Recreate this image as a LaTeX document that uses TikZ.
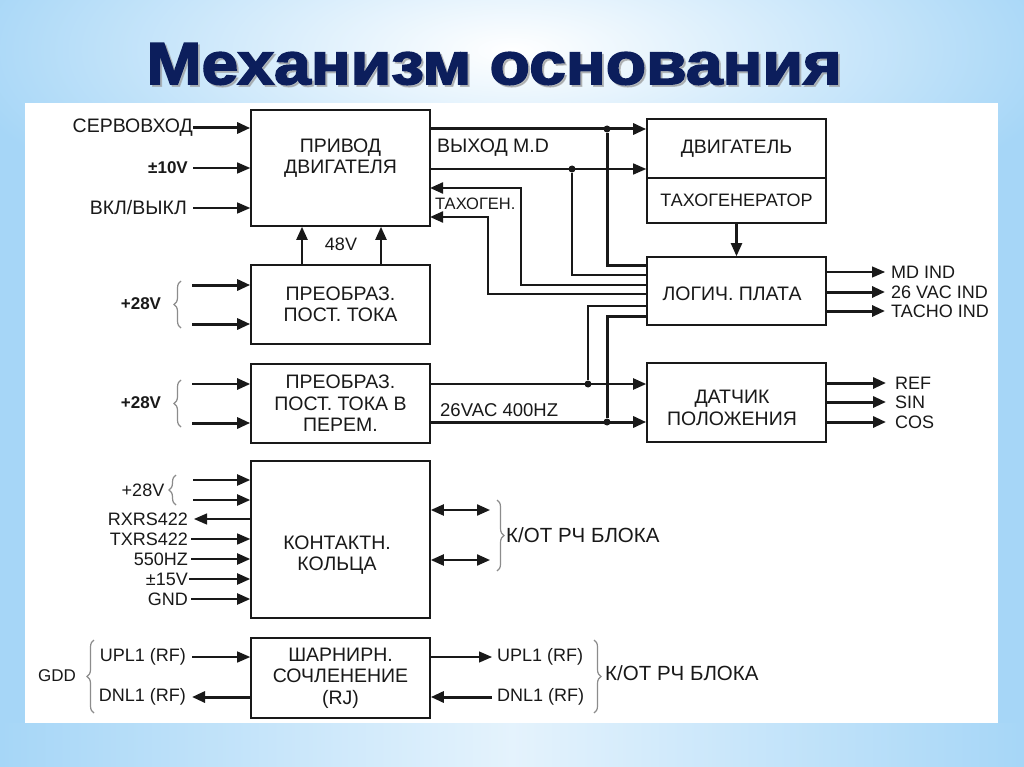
\documentclass[tikz,border=0pt]{standalone}
\usepackage{graphicx}
\usepackage{fontspec}
\setmainfont{Liberation Sans}
\newfontfamily\titlefont[BoldFeatures={FakeBold=2.5}]{Liberation Sans}
\usetikzlibrary{arrows.meta,decorations.pathreplacing,calc}
\definecolor{bgblue}{RGB}{166,214,247}
\definecolor{navy}{RGB}{12,30,92}
\definecolor{ink}{RGB}{25,25,25}
\begin{document}
\begin{tikzpicture}[x=1pt,y=-1pt,
  box/.style={draw=ink,line width=1.6pt,fill=white,minimum width=179pt,inner sep=0pt,
    font=\fontsize{19.5}{21.5}\selectfont,text=ink,align=center},
  txt/.style={font=\fontsize{19.5}{21.5}\selectfont,text=ink,inner sep=0pt,align=center},
  lab/.style={font=\fontsize{19.5}{22}\selectfont,text=ink,inner sep=0pt},
  labl/.style={font=\fontsize{18}{20}\selectfont,text=ink,inner sep=0pt},
  bl/.style={font=\fontsize{17}{20}\selectfont\bfseries,text=ink,inner sep=0pt},
  wthin/.style={line width=1.3pt,draw=ink},
  wmed/.style={line width=2.2pt,draw=ink},
  wthick/.style={line width=3pt,draw=ink},
  arr/.style={-{Triangle[length=13pt,width=11pt]}},
  larr/.style={{Triangle[length=13pt,width=11pt]}-},
  darr/.style={{Triangle[length=13pt,width=11pt]}-{Triangle[length=13pt,width=11pt]}},
  jdot/.style={circle,fill=ink,inner sep=0pt,minimum size=7pt},
  brc/.style={draw=black!45,line width=1.2pt,decorate,decoration={brace,amplitude=7pt}},
]
\useasboundingbox (0,0) rectangle (1024,767);
% background
\fill[bgblue] (0,0) rectangle (1024,767);
\shade[inner color=white,outer color=bgblue] (512,50) ellipse (560 and 200);
\shade[left color=bgblue,right color=bgblue,middle color=bgblue!30] (0,723) rectangle (1024,767);
\fill[white] (25,103) rectangle (998,723);
% title
\node[text=black!40,opacity=0.6] (titleS) at (496,66) {\resizebox{695pt}{41pt}{\titlefont\bfseries Механизм основания}};
\node[text=navy] (title) at (494,64) {\resizebox{695pt}{41pt}{\titlefont\bfseries Механизм основания}};

% blocks
\node[box,minimum height=116pt] (drv) at (340.5,168) {};
\node[txt] (drvT) at (340.5,158) {ПРИВОД\\ДВИГАТЕЛЯ};
\node[box,minimum height=79pt] (conv1) at (340.5,304.5) {ПРЕОБРАЗ.\\ПОСТ. ТОКА};
\node[box,minimum height=79pt] (conv2) at (340.5,403.5) {ПРЕОБРАЗ.\\ПОСТ. ТОКА В\\ПЕРЕМ.};
\node[box,minimum height=59pt] (motorA) at (736.5,148.5) {ДВИГАТЕЛЬ};
\node[box,minimum height=45pt,font=\fontsize{18}{20}\selectfont] (motorB) at (736.5,200.5) {ТАХОГЕНЕРАТОР};
\node[box,minimum height=68pt] (logic) at (736.5,291) {};
\node[txt] (logicT) at (732,294) {ЛОГИЧ. ПЛАТА};
\node[box,minimum height=79pt] (sensor) at (736.5,402.5) {};
\node[txt] (sensorT) at (732,408) {ДАТЧИК\\ПОЛОЖЕНИЯ};
\node[box,minimum height=157pt] (ring) at (340.5,539.5) {};
\node[txt] (ringT) at (337,555) {КОНТАКТН.\\КОЛЬЦА};
\node[box,minimum height=80pt] (joint) at (340.5,678) {ШАРНИРН.\\СОЧЛЕНЕНИЕ\\(RJ)};

% inputs of drive
\node[lab,anchor=east] (sIn) at (193,128) {СЕРВОВХОД};
\draw[wthick,arr] (sIn.east) -- (sIn.east -| drv.west);
\node[bl,anchor=east] (pm10) at (188,168) {±10V};
\draw[wthin,arr] ([xshift=5pt]pm10.east) -- (pm10.east -| drv.west);
\node[lab,anchor=east] (onoff) at (187,208) {ВКЛ/ВЫКЛ};
\draw[wthin,arr] ([xshift=6pt]onoff.east) -- (onoff.east -| drv.west);

% 48V
\coordinate (v48a) at (302,265);
\coordinate (v48b) at (381,265);
\draw[wmed,arr] (v48a) -- (v48a |- drv.south);
\draw[wmed,arr] (v48b) -- (v48b |- drv.south);
\node[labl] (v48) at (341,244) {48V};

% drive outputs
\node[jdot] (j1) at (607,129) {};
\node[jdot] (j2) at (572,169) {};
\draw[wthick,arr] (drv.east |- j1) -- (motorA.west |- j1);
\draw[wthin,arr] (drv.east |- j2) -- (motorA.west |- j2);
\node[lab,anchor=west] (mdout) at (437,148) {ВЫХОД M.D};

% tacho feedback
\coordinate (t1) at (521,285);
\coordinate (t2) at (488,294);
\coordinate (d1) at (430,188);
\coordinate (d2) at (430,217);
\draw[wmed,arr] (logic.west |- t1) -- (t1) |- (d1);
\draw[wmed,arr] (logic.west |- t2) -- (t2) |- (d2);
\node[lab,anchor=west,font=\fontsize{16.5}{18}\selectfont] (tg) at (435,204) {ТАХОГЕН.};

% junction lines to logic board
\coordinate (l1) at (647,265);
\coordinate (l2) at (647,275);
\draw[wthick] (j1) |- (l1);
\draw[line width=2.5pt,draw=ink] (j2) |- (l2);

% sensor inputs
\node[jdot] (j3) at (588,384) {};
\node[jdot] (j4) at (607,422) {};
\coordinate (l3) at (647,306);
\coordinate (l4) at (647,316);
\draw[wmed] (l3) -| (j3);
\draw[wthick] (l4) -| (j4);
\draw[wmed,arr] (conv2.east |- j3) -- (sensor.west |- j3);
\draw[wthick,arr] (conv2.east |- j4) -- (sensor.west |- j4);
\node[labl,anchor=west,font=\fontsize{18.5}{20}\selectfont] (vac) at (440,410) {26VAC 400HZ};

% motor -> logic
\draw[wmed,arr] (motorB.south) -- (logic.north);

% logic outputs
\node[labl,anchor=west] (mdind) at (891,272) {MD IND};
\node[labl,anchor=west] (vacind) at (891,292) {26 VAC IND};
\node[labl,anchor=west] (tind) at (891,311) {TACHO IND};
\draw[wthin,arr] (logic.east |- mdind) -- ([xshift=-6pt]mdind.west);
\draw[wthick,arr] (logic.east |- vacind) -- ([xshift=-6pt]vacind.west);
\draw[wthick,arr] (logic.east |- tind) -- ([xshift=-6pt]tind.west);

% sensor outputs
\node[labl,anchor=west] (ref) at (895,383) {REF};
\node[labl,anchor=west] (sin) at (895,402) {SIN};
\node[labl,anchor=west] (cos) at (895,422) {COS};
\draw[wthick,arr] (sensor.east |- ref) -- ([xshift=-9pt]ref.west);
\draw[wthick,arr] (sensor.east |- sin) -- ([xshift=-9pt]sin.west);
\draw[wthick,arr] (sensor.east |- cos) -- ([xshift=-9pt]cos.west);

% conv1 inputs
\coordinate (c1a) at (192,285);
\coordinate (c1b) at (192,324);
\draw[wthick,arr] (c1a) -- (c1a -| conv1.west);
\draw[wthick,arr] (c1b) -- (c1b -| conv1.west);
\node[bl] (p28a) at (141,304) {+28V};
\draw[brc] (181,328) -- (181,281);

% conv2 inputs
\coordinate (c2a) at (192,384);
\coordinate (c2b) at (192,423);
\draw[line width=2.6pt,draw=ink,arr] (c2a) -- (c2a -| conv2.west);
\draw[wthick,arr] (c2b) -- (c2b -| conv2.west);
\node[bl] (p28b) at (141,403) {+28V};
\draw[brc] (181,427) -- (181,380);

% ring inputs
\coordinate (r1) at (193,480);
\coordinate (r2) at (193,500);
\draw[wmed,arr] (r1) -- (r1 -| ring.west);
\draw[wmed,arr] (r2) -- (r2 -| ring.west);
\node[labl] (p28c) at (143,490) {+28V};
\draw[brc] (176,505) -- (176,475);
\node[labl,anchor=east] (rx) at (188,519) {RXRS422};
\draw[wthin,larr] ([xshift=6pt]rx.east) -- (rx.east -| ring.west);
\node[labl,anchor=east] (tx) at (188,539) {TXRS422};
\draw[wthin,arr] ([xshift=3pt]tx.east) -- (tx.east -| ring.west);
\node[labl,anchor=east] (hz) at (188,559) {550HZ};
\draw[wmed,arr] ([xshift=3pt]hz.east) -- (hz.east -| ring.west);
\node[labl,anchor=east] (v15) at (188,579) {±15V};
\draw[wmed,arr] ([xshift=1pt]v15.east) -- (v15.east -| ring.west);
\node[labl,anchor=east] (gnd) at (188,599) {GND};
\draw[wmed,arr] ([xshift=3pt]gnd.east) -- (gnd.east -| ring.west);

% ring outputs
\coordinate (rr1) at (490,510);
\coordinate (rr2) at (490,560);
\draw[wmed,darr] (ring.east |- rr1) -- (rr1);
\draw[wmed,darr] (ring.east |- rr2) -- (rr2);
\draw[brc] (497,500) -- (497,571);
\node[lab,anchor=west,font=\fontsize{20.5}{22}\selectfont] (rf1) at (506,535) {К/ОТ РЧ БЛОКА};

% joint
\node[labl,anchor=east] (upl) at (186,657) {UPL1 (RF)};
\draw[wthin,arr] ([xshift=6pt]upl.east) -- (upl.east -| joint.west);
\node[labl,anchor=east] (dnl) at (186,697) {DNL1 (RF)};
\draw[wthick,larr] ([xshift=6pt]dnl.east) -- (dnl.east -| joint.west);
\node[labl,font=\fontsize{17}{20}\selectfont] (gdd) at (57,676) {GDD};
\draw[brc] (94,713) -- (94,640);
\node[labl,anchor=west] (upr) at (497,657) {UPL1 (RF)};
\draw[wthin,arr] (joint.east |- upr) -- ([xshift=-5pt]upr.west);
\node[labl,anchor=west] (dnr) at (497,697) {DNL1 (RF)};
\draw[wthick,larr] (joint.east |- dnr) -- ([xshift=-5pt]dnr.west);
\draw[brc] (594,640) -- (594,713);
\node[lab,anchor=west,font=\fontsize{20.5}{22}\selectfont] (rf2) at (605,673) {К/ОТ РЧ БЛОКА};
\end{tikzpicture}
\end{document}
